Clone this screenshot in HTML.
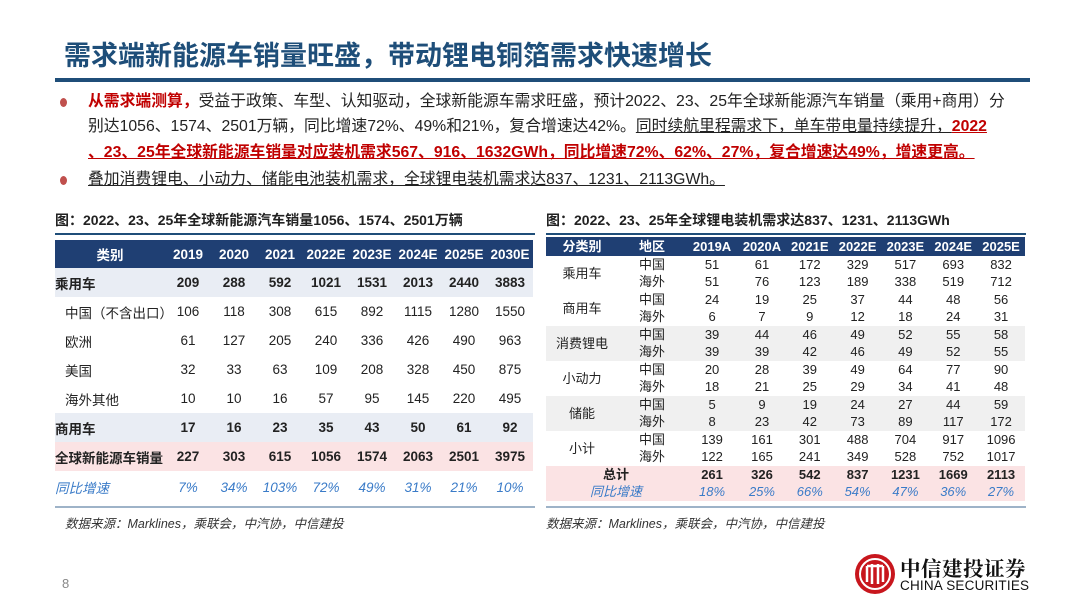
<!DOCTYPE html>
<html><head><meta charset="utf-8"><style>
*{margin:0;padding:0;box-sizing:border-box}
body{width:1080px;height:608px;background:#fff;position:relative;overflow:hidden;font-family:"Liberation Sans","Noto Sans CJK SC",sans-serif;color:#222}
.abs{position:absolute}
.title{left:64px;top:34px;font-size:27px;font-weight:bold;color:#1e4e79;letter-spacing:0px;white-space:nowrap}
.bar{left:55px;top:78px;width:975px;height:4px;background:#1f4e79}
.p{left:88px;font-size:15.8px;line-height:26px;white-space:nowrap;color:#222}
.dot{width:7px;height:9px;border-radius:50%;background:#c0504d}
.red{color:#c00000;font-weight:bold}
.u{text-decoration:underline}
table{border-collapse:collapse;table-layout:fixed;position:absolute}
td{text-align:center;white-space:nowrap;padding:0}
.t1 td{font-size:13.5px;height:29px}
.t1 .h td{background:#1f3f73;color:#fff;font-weight:bold;font-size:13.5px;height:28px}
.t1 .b td{font-weight:bold}
.t1 .g td{background:#e9edf4}
.t1 .r td{background:#fbe3e4}
.gr td{color:#3a7bc8;font-style:italic}
.t2 td{font-size:13px;height:17.5px;line-height:16px}
.t2 .h td{background:#1f3f73;color:#fff;font-weight:bold;height:19px}
.t2 .s td{background:#f0f0f0}
.t2 .r td{background:#fbe3e4}
.cap{font-size:14px;font-weight:bold;white-space:nowrap}
.src{font-size:12.5px;font-style:italic;color:#333;white-space:nowrap}
.ln{height:2px;background:#1f4e79}
.ln2{height:2px;background:#9eb3c8}
</style></head><body>
<div class="abs title">需求端新能源车销量旺盛，带动锂电铜箔需求快速增长</div>
<div class="abs bar"></div>
<div class="abs dot" style="left:60px;top:98px"></div>
<div class="abs p" style="top:89px"><span class="red">从需求端测算，</span>受益于政策、车型、认知驱动，全球新能源车需求旺盛，预计2022、23、25年全球新能源汽车销量（乘用+商用）分</div>
<div class="abs p" style="top:114px">别达1056、1574、2501万辆，同比增速72%、49%和21%，复合增速达42%。<span class="u">同时续航里程需求下，单车带电量持续提升，</span><span class="red u">2022</span></div>
<div class="abs p" style="top:140px"><span class="red u">、23、25年全球新能源车销量对应装机需求567、916、1632GWh，同比增速72%、62%、27%，复合增速达49%，增速更高。</span></div>
<div class="abs dot" style="left:60px;top:176px"></div>
<div class="abs p" style="top:167px"><span class="u">叠加消费锂电、小动力、储能电池装机需求，全球锂电装机需求达837、1231、2113GWh。</span></div>

<div class="abs cap" style="left:55px;top:210px">图：2022、23、25年全球新能源汽车销量1056、1574、2501万辆</div>
<div class="abs ln" style="left:55px;top:233px;width:480px"></div>
<table class="t1" style="left:55px;top:240px;width:478px">
<colgroup><col style="width:110px"><col span="8" style="width:46px"></colgroup>
<tr class="h"><td>类别</td><td>2019</td><td>2020</td><td>2021</td><td>2022E</td><td>2023E</td><td>2024E</td><td>2025E</td><td>2030E</td></tr>
<tr class="b g"><td style="text-align:left">乘用车</td><td>209</td><td>288</td><td>592</td><td>1021</td><td>1531</td><td>2013</td><td>2440</td><td>3883</td></tr>
<tr><td style="text-align:left;padding-left:10px">中国（不含出口）</td><td>106</td><td>118</td><td>308</td><td>615</td><td>892</td><td>1115</td><td>1280</td><td>1550</td></tr>
<tr><td style="text-align:left;padding-left:10px">欧洲</td><td>61</td><td>127</td><td>205</td><td>240</td><td>336</td><td>426</td><td>490</td><td>963</td></tr>
<tr><td style="text-align:left;padding-left:10px">美国</td><td>32</td><td>33</td><td>63</td><td>109</td><td>208</td><td>328</td><td>450</td><td>875</td></tr>
<tr><td style="text-align:left;padding-left:10px">海外其他</td><td>10</td><td>10</td><td>16</td><td>57</td><td>95</td><td>145</td><td>220</td><td>495</td></tr>
<tr class="b g"><td style="text-align:left">商用车</td><td>17</td><td>16</td><td>23</td><td>35</td><td>43</td><td>50</td><td>61</td><td>92</td></tr>
<tr class="b r"><td style="text-align:left">全球新能源车销量</td><td>227</td><td>303</td><td>615</td><td>1056</td><td>1574</td><td>2063</td><td>2501</td><td>3975</td></tr>
<tr class="gr"><td style="text-align:left;height:32px">同比增速</td><td>7%</td><td>34%</td><td>103%</td><td>72%</td><td>49%</td><td>31%</td><td>21%</td><td>10%</td></tr>
</table>
<div class="abs ln2" style="left:55px;top:506px;width:480px"></div>
<div class="abs src" style="left:65px;top:513px">数据来源：Marklines，乘联会，中汽协，中信建投</div>

<div class="abs cap" style="left:546px;top:210px">图：2022、23、25年全球锂电装机需求达837、1231、2113GWh</div>
<div class="abs ln" style="left:546px;top:233px;width:480px"></div>
<table class="t2" style="left:546px;top:237px;width:479px">
<colgroup><col style="width:72px"><col style="width:68px"><col style="width:52px"><col span="6" style="width:47.8px"></colgroup>
<tr class="h"><td>分类别</td><td>地区</td><td>2019A</td><td>2020A</td><td>2021E</td><td>2022E</td><td>2023E</td><td>2024E</td><td>2025E</td></tr>
<tr><td rowspan="2">乘用车</td><td>中国</td><td>51</td><td>61</td><td>172</td><td>329</td><td>517</td><td>693</td><td>832</td></tr>
<tr><td>海外</td><td>51</td><td>76</td><td>123</td><td>189</td><td>338</td><td>519</td><td>712</td></tr>
<tr><td rowspan="2">商用车</td><td>中国</td><td>24</td><td>19</td><td>25</td><td>37</td><td>44</td><td>48</td><td>56</td></tr>
<tr><td>海外</td><td>6</td><td>7</td><td>9</td><td>12</td><td>18</td><td>24</td><td>31</td></tr>
<tr class="s"><td rowspan="2">消费锂电</td><td>中国</td><td>39</td><td>44</td><td>46</td><td>49</td><td>52</td><td>55</td><td>58</td></tr>
<tr class="s"><td>海外</td><td>39</td><td>39</td><td>42</td><td>46</td><td>49</td><td>52</td><td>55</td></tr>
<tr><td rowspan="2">小动力</td><td>中国</td><td>20</td><td>28</td><td>39</td><td>49</td><td>64</td><td>77</td><td>90</td></tr>
<tr><td>海外</td><td>18</td><td>21</td><td>25</td><td>29</td><td>34</td><td>41</td><td>48</td></tr>
<tr class="s"><td rowspan="2">储能</td><td>中国</td><td>5</td><td>9</td><td>19</td><td>24</td><td>27</td><td>44</td><td>59</td></tr>
<tr class="s"><td>海外</td><td>8</td><td>23</td><td>42</td><td>73</td><td>89</td><td>117</td><td>172</td></tr>
<tr><td rowspan="2">小计</td><td>中国</td><td>139</td><td>161</td><td>301</td><td>488</td><td>704</td><td>917</td><td>1096</td></tr>
<tr><td>海外</td><td>122</td><td>165</td><td>241</td><td>349</td><td>528</td><td>752</td><td>1017</td></tr>
<tr class="r" style="font-weight:bold"><td colspan="2" style="font-weight:bold">总计</td><td style="font-weight:bold">261</td><td style="font-weight:bold">326</td><td style="font-weight:bold">542</td><td style="font-weight:bold">837</td><td style="font-weight:bold">1231</td><td style="font-weight:bold">1669</td><td style="font-weight:bold">2113</td></tr>
<tr class="r gr"><td colspan="2">同比增速</td><td>18%</td><td>25%</td><td>66%</td><td>54%</td><td>47%</td><td>36%</td><td>27%</td></tr>
</table>
<div class="abs ln2" style="left:546px;top:506px;width:480px"></div>
<div class="abs src" style="left:546px;top:513px">数据来源：Marklines，乘联会，中汽协，中信建投</div>

<div class="abs" style="left:62px;top:576px;font-size:13px;color:#888">8</div>
<svg class="abs" style="left:854px;top:553px" width="42" height="42" viewBox="0 0 42 42">
<circle cx="21" cy="21" r="20" fill="#c8161d"/>
<circle cx="21" cy="21" r="15" fill="none" stroke="#fff" stroke-width="2"/>
<path d="M13 13v16M18 11v20M24 11v20M29 13v16M13 13h16" stroke="#fff" stroke-width="2.5" fill="none"/>
</svg>
<div class="abs" style="left:900px;top:552px;font-size:20.5px;font-weight:bold;color:#111;letter-spacing:0.5px;font-family:'Noto Serif CJK SC',serif">中信建投证券</div>
<div class="abs" style="left:900px;top:578px;font-size:13.5px;color:#111;letter-spacing:0.2px">CHINA SECURITIES</div>
</body></html>
